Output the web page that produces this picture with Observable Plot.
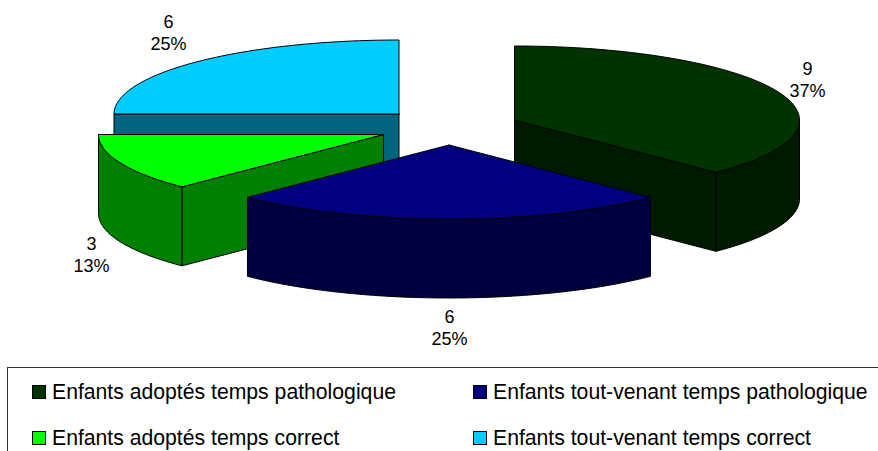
<!DOCTYPE html>
<html lang="fr">
<head>
<meta charset="utf-8">
<script src="https://cdn.jsdelivr.net/npm/d3@7"></script>
<script src="https://cdn.jsdelivr.net/npm/@observablehq/plot@0.6"></script>
<style>
  html, body { margin: 0; padding: 0; background: #fff; overflow: hidden; }
  body { width: 878px; height: 451px; position: relative; font-family: "Liberation Sans", Arial, sans-serif; }
  #chart { position: absolute; left: 0; top: 0; }
  #chart svg { display: block; }
  #legend { position: absolute; left: 7px; top: 367px; width: 871px; height: 84px; box-sizing: border-box;
            border-top: 1px solid #333; border-left: 1px solid #333; }
  .item { position: absolute; display: flex; align-items: center; font-size: 21.2px; line-height: 24px; color: #000; white-space: nowrap; }
  .swatch { width: 12px; height: 12px; border: 1px solid #000; margin-right: 6px; flex: none; }
</style>
</head>
<body>
<div id="chart"></div>
<div id="legend"></div>
<script>
// Data
const categories = [
  "Enfants adoptés temps pathologique",
  "Enfants tout-venant temps pathologique",
  "Enfants adoptés temps correct",
  "Enfants tout-venant temps correct"
];
const values = [9, 6, 3, 6];
const percentLabels = ["37%", "25%", "13%", "25%"];
const colors = ["#003300", "#000080", "#00ff00", "#00ccff"];

// Layout of the exploded 3D pie
const radiusX = 285, radiusY = 74, depth = 79;
const centersX = [514, 448.5, 383, 398.5];
const centersY = [119.5, 144.5, 134, 113.5];
const labelX = [807, 449, 91, 168];
const labelY = [78, 326, 253, 31];
const paintOrder = [3, 0, 2, 1];
const legendLeft = [24, 465, 24, 465];
const legendTop = [12, 12, 58, 58];

const total = d3.sum(values);
const cumulative = d3.cumsum(values);
const shade = (c) => { const r = d3.rgb(c); return d3.rgb(r.r / 2, r.g / 2, r.b / 2).formatHex(); };

function rim(i, from, to, dy = 0) {
  const n = Math.max(2, Math.ceil((to - from) / 0.02));
  return d3.range(n + 1).map((k) => {
    const a = from + (to - from) * k / n;
    return [centersX[i] + radiusX * Math.sin(a), centersY[i] + radiusY * -Math.cos(a) + dy];
  });
}

const polys = [];
function addPoly(id, fill, pts) {
  [...pts, pts[0]].forEach(([x, y]) => polys.push({id, fill, x, y}));
}

for (const i of paintOrder) {
  const a0 = (cumulative[i] - values[i]) / total * 2 * Math.PI;
  const a1 = cumulative[i] / total * 2 * Math.PI;
  const c = [centersX[i], centersY[i]];
  const wall = shade(colors[i]);
  const edge = (a) => [c[0] + radiusX * Math.sin(a), c[1] - radiusY * Math.cos(a)];
  const down = ([x, y]) => [x, y + depth];
  // Flat cut faces that look towards the viewer
  if (a1 < Math.PI) {
    addPoly(`${i}-cut1`, wall, [c, edge(a1), down(edge(a1)), down(c)]);
  }
  if (a0 >= Math.PI && a0 < 2 * Math.PI) {
    addPoly(`${i}-cut0`, wall, [c, edge(a0), down(edge(a0)), down(c)]);
  }
  // Outer curved wall on the front half of the ellipse
  const f0 = Math.max(a0, Math.PI / 2), f1 = Math.min(a1, 3 * Math.PI / 2);
  if (f1 > f0) {
    const top = rim(i, f0, f1), bottom = rim(i, f0, f1, depth).reverse();
    addPoly(`${i}-wall`, wall, [...top, ...bottom]);
  }
  // Top face
  addPoly(`${i}-top`, colors[i], [c, ...rim(i, a0, a1)]);
}

const labels = values.map((v, i) => ({text: `${v}\n${percentLabels[i]}`, x: labelX[i], y: labelY[i]}));

const plot = Plot.plot({
  width: 878,
  height: 366,
  margin: 0,
  x: {domain: [0, 878], range: [0, 878], axis: null},
  y: {domain: [0, 366], range: [0, 366], axis: null},
  color: {type: "identity"},
  style: {fontFamily: '"Liberation Sans", Arial, sans-serif', background: "transparent"},
  marks: [
    Plot.line(polys, {x: "x", y: "y", z: "id", fill: "fill", stroke: "#000", strokeWidth: 1, curve: "linear"}),
    Plot.text(labels, {x: "x", y: "y", text: "text", fontSize: 18, lineHeight: 1.22, fill: "#000", textAnchor: "middle"})
  ]
});
document.getElementById("chart").appendChild(plot);

const legend = document.getElementById("legend");
categories.forEach((name, i) => {
  const item = document.createElement("div");
  item.className = "item";
  item.style.left = legendLeft[i] + "px";
  item.style.top = legendTop[i] + "px";
  const sw = document.createElement("span");
  sw.className = "swatch";
  sw.style.background = colors[i];
  item.appendChild(sw);
  item.appendChild(document.createTextNode(name));
  legend.appendChild(item);
});
</script>
</body>
</html>
